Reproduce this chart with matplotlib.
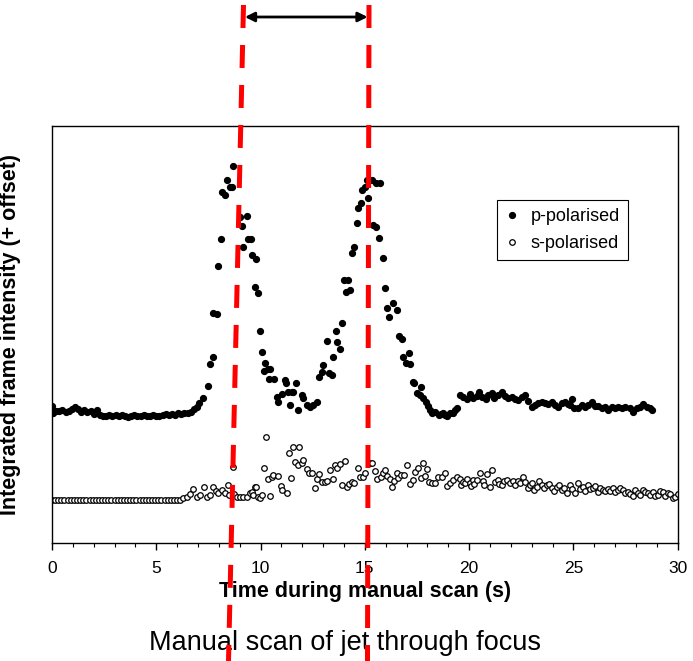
import matplotlib
matplotlib.use('Agg')
import matplotlib.pyplot as plt
from matplotlib.lines import Line2D
from matplotlib.ticker import MultipleLocator

plt.rcParams['font.family'] = ['Liberation Sans', 'DejaVu Sans']

#------------------------------DATA (time in s, intensity in arbitrary units + offset)------------------------------
p_time = [0.00, 0.05, 0.20, 0.35, 0.50, 0.65, 0.80, 0.95, 1.10, 1.25,
          1.40, 1.55, 1.70, 1.85, 2.00, 2.15, 2.30, 2.45, 2.60, 2.75,
          2.90, 3.05, 3.20, 3.35, 3.50, 3.65, 3.80, 3.95, 4.10, 4.25,
          4.40, 4.55, 4.70, 4.85, 5.00, 5.15, 5.30, 5.45, 5.60, 5.75,
          5.90, 6.05, 6.20, 6.35, 6.50, 6.65, 6.80, 6.95, 7.05, 7.24,
          7.48, 7.57, 7.72, 7.74, 7.91, 7.95, 8.10, 8.15, 8.29, 8.39,
          8.53, 8.63, 8.67, 9.01, 9.10, 9.15, 9.34, 9.39, 9.54, 9.58,
          9.73, 9.78, 9.87, 9.97, 10.06, 10.16, 10.21, 10.35, 10.40, 10.45,
          10.64, 10.78, 10.83, 11.02, 11.17, 11.21, 11.31, 11.41, 11.50, 11.55,
          11.69, 11.79, 11.98, 12.03, 12.22, 12.36, 12.51, 12.70, 12.79, 12.94,
          12.99, 13.18, 13.27, 13.42, 13.47, 13.61, 13.66, 13.80, 13.90, 13.99,
          14.09, 14.19, 14.28, 14.38, 14.47, 14.62, 14.66, 14.81, 14.86, 15.00,
          15.10, 15.14, 15.33, 15.38, 15.53, 15.53, 15.67, 15.72, 15.86, 15.96,
          16.05, 16.15, 16.34, 16.53, 16.63, 16.77, 16.82, 16.96, 17.11, 17.15,
          17.30, 17.35, 17.49, 17.63, 17.68, 17.78, 17.92, 18.02, 18.11, 18.21,
          18.35, 18.54, 18.64, 18.74, 18.83, 18.93, 19.07, 19.22, 19.31, 19.41,
          19.55, 19.70, 19.89, 20.03, 20.17, 20.37, 20.46, 20.61, 20.80, 20.89,
          21.09, 21.18, 21.37, 21.56, 21.71, 21.85, 22.04, 22.19, 22.33, 22.52,
          22.67, 22.81, 23.00, 23.15, 23.29, 23.48, 23.63, 23.77, 23.96, 24.11,
          24.25, 24.44, 24.58, 24.73, 24.82, 24.92, 25.01, 25.21, 25.40, 25.54,
          25.69, 25.88, 26.02, 26.17, 26.36, 26.50, 26.64, 26.84, 26.98, 27.12,
          27.32, 27.46, 27.70, 27.84, 28.03, 28.18, 28.32, 28.51, 28.66, 28.75]
p_int = [137, 130, 132, 132, 133, 131, 132, 134, 136, 134,
         131, 133, 131, 132, 129, 133, 128, 127, 127, 128,
         127, 128, 127, 128, 127, 126, 127, 128, 127, 127,
         128, 127, 127, 128, 127, 127, 128, 129, 128, 129,
         128, 130, 129, 130, 130, 131, 134, 136, 140, 145,
         157, 179, 186, 230, 229, 277, 304, 351, 348, 363,
         356, 356, 377, 326, 317, 296, 327, 304, 304, 288,
         256, 284, 250, 212, 191, 172, 180, 174, 164, 174,
         164, 146, 141, 149, 163, 160, 151, 138, 151, 151,
         160, 133, 148, 145, 138, 136, 138, 141, 166, 171,
         178, 202, 170, 168, 186, 212, 201, 194, 220, 263,
         251, 263, 253, 290, 296, 320, 335, 340, 353, 356,
         363, 345, 363, 318, 360, 316, 305, 360, 285, 255,
         235, 226, 240, 233, 207, 204, 186, 180, 190, 179,
         161, 160, 150, 148, 156, 145, 141, 137, 133, 130,
         131, 128, 129, 130, 128, 127, 130, 130, 133, 135,
         148, 146, 144, 149, 145, 147, 151, 146, 144, 148,
         150, 145, 148, 151, 147, 145, 146, 144, 143, 146,
         148, 142, 136, 138, 140, 141, 140, 139, 141, 138,
         136, 140, 141, 139, 138, 144, 135, 135, 138, 136,
         138, 141, 137, 137, 135, 136, 133, 136, 135, 136,
         135, 136, 135, 131, 135, 136, 139, 136, 135, 133]

s_time = [0.00, 0.15, 0.30, 0.45, 0.60, 0.75, 0.90, 1.05, 1.20, 1.35,
          1.50, 1.65, 1.80, 1.95, 2.10, 2.25, 2.40, 2.55, 2.70, 2.85,
          3.00, 3.15, 3.30, 3.45, 3.60, 3.75, 3.90, 4.05, 4.20, 4.35,
          4.50, 4.65, 4.80, 4.95, 5.10, 5.25, 5.40, 5.55, 5.70, 5.85,
          6.00, 6.15, 6.28, 6.47, 6.61, 6.76, 6.95, 7.09, 7.28, 7.43,
          7.57, 7.72, 7.86, 7.95, 8.15, 8.29, 8.43, 8.48, 8.67, 8.72,
          8.87, 9.01, 9.15, 9.34, 9.49, 9.58, 9.63, 9.73, 9.78, 9.87,
          9.97, 10.06, 10.16, 10.26, 10.35, 10.45, 10.54, 10.59, 10.83, 10.97,
          11.02, 11.26, 11.36, 11.45, 11.55, 11.64, 11.79, 11.83, 11.98, 12.03,
          12.22, 12.31, 12.46, 12.60, 12.70, 12.79, 12.94, 13.08, 13.18, 13.32,
          13.47, 13.56, 13.66, 13.80, 13.90, 14.04, 14.14, 14.23, 14.38, 14.47,
          14.66, 14.76, 14.90, 15.00, 15.24, 15.33, 15.48, 15.58, 15.77, 15.86,
          15.96, 16.05, 16.20, 16.29, 16.39, 16.53, 16.58, 16.72, 16.87, 17.01,
          17.15, 17.30, 17.40, 17.54, 17.68, 17.78, 17.87, 17.97, 18.07, 18.21,
          18.35, 18.50, 18.69, 18.83, 18.93, 19.07, 19.22, 19.41, 19.55, 19.62,
          19.70, 19.79, 19.89, 20.03, 20.10, 20.17, 20.25, 20.37, 20.51, 20.65,
          20.72, 20.84, 20.99, 21.09, 21.23, 21.37, 21.45, 21.56, 21.65, 21.80,
          21.95, 22.09, 22.18, 22.33, 22.45, 22.57, 22.70, 22.81, 22.90, 23.00,
          23.12, 23.24, 23.35, 23.48, 23.60, 23.72, 23.85, 23.96, 24.08, 24.20,
          24.32, 24.44, 24.56, 24.68, 24.82, 24.95, 25.06, 25.21, 25.32, 25.45,
          25.57, 25.69, 25.80, 25.93, 26.05, 26.17, 26.28, 26.40, 26.52, 26.64,
          26.76, 26.88, 27.00, 27.12, 27.24, 27.36, 27.48, 27.60, 27.72, 27.84,
          27.96, 28.08, 28.20, 28.32, 28.44, 28.56, 28.68, 28.80, 28.92, 29.04,
          29.16, 29.28, 29.40, 29.52, 29.64, 29.76, 29.88, 30.00]
s_int = [43, 43, 43, 43, 43, 43, 43, 43, 43, 43,
         43, 43, 43, 43, 43, 43, 43, 43, 43, 43,
         43, 43, 43, 43, 43, 43, 43, 43, 43, 43,
         43, 43, 43, 43, 43, 43, 43, 43, 43, 43,
         43, 43, 45, 46, 49, 54, 46, 48, 56, 46,
         48, 56, 52, 50, 53, 50, 58, 48, 76, 49,
         46, 46, 46, 46, 50, 51, 48, 56, 56, 46,
         45, 48, 75, 106, 64, 47, 66, 68, 67, 57,
         53, 50, 90, 65, 96, 81, 78, 96, 80, 83,
         74, 70, 70, 55, 64, 69, 61, 61, 62, 73,
         64, 78, 75, 79, 58, 82, 56, 59, 61, 60,
         75, 66, 66, 70, 80, 80, 72, 64, 66, 70,
         73, 67, 64, 56, 62, 70, 65, 68, 68, 78,
         59, 63, 71, 75, 65, 80, 67, 74, 61, 60,
         60, 66, 66, 70, 57, 60, 63, 66, 64, 58,
         61, 60, 64, 60, 57, 63, 59, 63, 70, 62,
         58, 69, 56, 73, 61, 63, 59, 58, 62, 63,
         60, 62, 58, 62, 60, 66, 61, 55, 58, 60,
         53, 56, 62, 58, 55, 58, 59, 55, 52, 56,
         58, 53, 55, 50, 58, 54, 50, 60, 54, 56,
         52, 58, 54, 55, 57, 51, 55, 53, 52, 54,
         52, 55, 51, 53, 55, 53, 50, 51, 49, 47,
         53, 50, 48, 53, 51, 50, 48, 51, 47, 48,
         52, 51, 47, 50, 49, 45, 46, 49]

# the two dashed marker lines and the arrow between them (figure fractions)
left_marker = [(243.5 / 693, 1 - 5 / 661), (228.5 / 693, 0.0)]
right_marker = [(369.0 / 693, 1 - 5 / 661), (367.5 / 693, 0.0)]
arrow_y = 1 - 17 / 661

#------------------------------PLOT------------------------------
fig = plt.figure(figsize=(6.93, 6.61), dpi=100)
ax = fig.add_axes([0.075, 0.1785, 0.903, 0.6305])

ax.plot(p_time, p_int, 'o', ms=4.2, color='black', mec='black', label='p-polarised')
ax.plot(s_time, s_int, 'o', ms=4.0, mfc='white', mec='black', mew=0.9, label='s-polarised')

ax.set_xlim(0, 30)
ax.set_ylim(0, 417)
ax.xaxis.set_major_locator(MultipleLocator(5))
ax.xaxis.set_minor_locator(MultipleLocator(1))
ax.tick_params(axis='x', which='major', direction='out', length=5, width=1, labelsize=12.5, pad=8)
ax.tick_params(axis='x', which='minor', direction='out', length=3, width=0.8)
ax.set_yticks([])
for sp in ax.spines.values():
    sp.set_linewidth(1.0)
    sp.set_color('black')

ax.set_xlabel('Time during manual scan (s)', fontsize=15.5, fontweight='bold')
ax.xaxis.set_label_coords(0.5, -0.092)
ax.set_ylabel('Integrated frame intensity (+ offset)', fontsize=15.5, fontweight='bold')
ax.yaxis.set_label_coords(-0.05, 0.5)

leg = ax.legend(loc='upper left', bbox_to_anchor=(0.711, 0.823), borderaxespad=0,
                fontsize=13, frameon=True, fancybox=False, framealpha=1,
                handlelength=0.8, handletextpad=0.6, borderpad=0.45, labelspacing=0.55)
leg.get_frame().set_edgecolor('black')
leg.get_frame().set_linewidth(0.8)

# red dashed lines across the whole figure
for pts in (left_marker, right_marker):
    fig.add_artist(Line2D([pts[0][0], pts[1][0]], [pts[0][1], pts[1][1]],
                          transform=fig.transFigure, color='#ff0000', lw=3.6,
                          dashes=(4.6, 3.4), solid_capstyle='butt', dash_capstyle='butt',
                          zorder=10))

ax.annotate('', xy=(right_marker[0][0] - 0.002, arrow_y), xycoords='figure fraction',
            xytext=(left_marker[0][0] + 0.002, arrow_y), textcoords='figure fraction',
            arrowprops=dict(arrowstyle='<|-|>', color='black', lw=2, mutation_scale=14,
                            shrinkA=0, shrinkB=0))

fig.text(345 / 693, 1 - 643 / 661, 'Manual scan of jet through focus', fontsize=19.5,
         ha='center', va='center')

plt.savefig('out.png', dpi=100)
